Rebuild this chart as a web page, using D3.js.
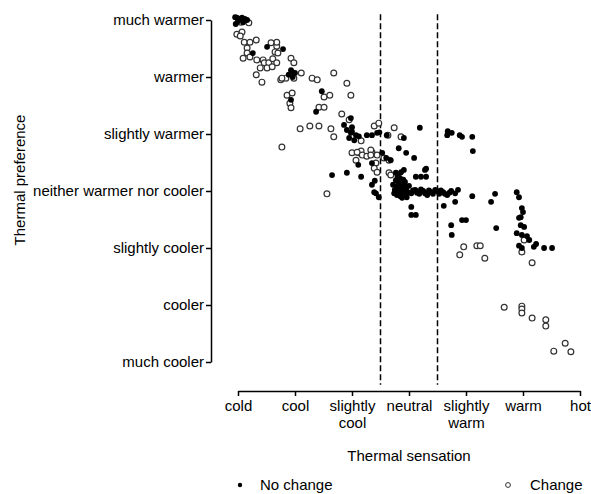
<!DOCTYPE html>
<html><head><meta charset="utf-8">
<script src="https://cdn.jsdelivr.net/npm/d3@7"></script>
<style>body{margin:0;background:#fff}svg{display:block;font-family:"Liberation Sans",Arial,sans-serif}</style>
</head><body><svg id="c" width="591" height="494"></svg>
<script>
const sensationLabels = [["cold"],["cool"],["slightly","cool"],["neutral"],["slightly","warm"],["warm"],["hot"]];
const sensationValues = [-3,-2,-1,0,1,2,3];
const preferenceLabels = ["much cooler","cooler","slightly cooler","neither warmer nor cooler","slightly warmer","warmer","much warmer"];
const preferenceValues = [-3,-2,-1,0,1,2,3];
const boundaries = [-0.5, 0.5];

// [sensation, preference]
const noChange = [
[-3.05,3.05],[-3.02,3.04],[-2.98,3.02],[-2.93,3.04],[-2.88,3.02],[-3.0,2.98],[-2.91,2.96],[-2.84,3.0],[-3.04,2.93],
[-2.74,2.42],[-2.49,2.53],[-2.21,2.49],[-2.05,2.09],[-2.11,2.04],[-2.0,2.07],[-2.07,2.12],[-2.04,2.0],[-2.07,1.60],
[-1.53,1.75],[-1.63,1.39],[-1.02,1.28],[-1.14,1.16],[-1.0,1.12],[-1.09,1.07],[-1.02,1.02],[-0.93,0.98],[-1.05,0.93],
[-0.96,0.89],[-1.0,1.04],[-0.88,0.96],[-0.74,0.98],[-0.65,0.98],[-0.56,1.02],[-0.52,1.03],[-0.39,0.98],[-0.18,0.75],[-0.05,0.67],
[-0.09,0.93],[0.19,1.11],[-0.89,0.46],[-0.65,0.49],[-0.47,0.67],[-0.40,0.58],[-0.32,0.54],[0.09,0.58],
[-1.35,0.28],[-1.09,0.32],[-0.84,0.25],[-0.60,0.18],[-0.65,0.11],[-0.58,-0.04],[-0.53,-0.11],[-0.61,-0.02],
[-0.23,0.32],[-0.14,0.33],[-0.09,0.37],[0.12,0.25],[0.21,0.25],[0.30,0.25],[0.30,0.39],[0.28,0.37],
[0.04,-0.28],[0.04,-0.42],[0.12,-0.42],[0.61,-0.26],[0.67,0.98],[0.68,1.05],[0.75,1.02],[0.89,0.98],[0.93,0.95],[1.11,0.95],[1.12,0.70],
[-0.23,0.19],[-0.18,0.14],[-0.12,0.11],[-0.21,0.07],[-0.14,0.04],[-0.09,0.0],[-0.18,-0.04],[-0.11,-0.07],[-0.05,0.05],
[-0.02,-0.02],[-0.21,-0.07],[-0.12,-0.12],[-0.07,0.16],[-0.16,0.23],[-0.04,-0.11],[-0.25,0.02],[-0.28,0.11],[0.0,0.09],
[-0.19,0.10],[-0.15,-0.09],[-0.08,0.08],[-0.26,-0.04],[-0.10,0.20],[-0.20,0.26],[-0.06,-0.05],[-0.17,0.0],
[0.04,-0.04],[0.11,0.02],[0.18,-0.05],[0.25,0.0],[0.32,-0.07],[0.39,-0.02],[0.46,0.02],[0.53,-0.05],[0.60,-0.02],
[0.07,0.01],[0.14,-0.03],[0.21,0.03],[0.28,-0.04],[0.35,0.01],[0.42,-0.05],[0.49,0.0],[0.56,0.01],[0.63,-0.05],[0.71,-0.03],
[0.67,-0.07],[0.74,0.0],[0.81,-0.04],[0.86,0.02],[0.81,-0.19],[1.11,-0.09],[1.51,-0.05],[1.44,-0.19],
[1.89,-0.02],[1.93,-0.11],[1.98,-0.30],[2.0,-0.37],[1.96,-0.46],[1.93,-0.47],
[0.74,-0.60],[0.75,-0.77],[0.93,-0.51],[1.0,-0.51],[1.53,-0.65],
[1.96,-0.60],[2.02,-0.63],[1.89,-0.74],[1.98,-0.77],[2.07,-0.79],[2.11,-0.86],[1.93,-0.96],[1.98,-1.0],
[2.23,-0.93],[2.19,-0.98],[2.37,-1.0],[2.51,-1.0]
];
const change = [
[-2.95,2.96],[-2.81,2.95],[-3.02,2.75],[-2.93,2.79],[-2.96,2.72],[-2.89,2.61],[-2.79,2.61],[-2.68,2.65],[-2.84,2.51],
[-2.84,2.42],[-2.91,2.33],[-2.79,2.35],[-2.67,2.30],[-2.56,2.30],[-2.54,2.25],[-2.46,2.25],[-2.39,2.32],[-2.32,2.25],
[-2.61,2.16],[-2.49,2.16],[-2.40,2.18],[-2.32,2.54],[-2.35,2.44],[-2.30,2.42],[-2.32,2.61],[-2.42,2.60],[-2.07,2.33],
[-2.02,2.25],[-1.89,2.07],[-2.16,1.98],[-2.25,1.95],[-2.23,1.98],[-2.02,1.98],[-2.68,2.04],[-2.58,1.91],[-1.70,1.98],
[-1.61,1.95],[-1.32,2.07],[-2.14,1.68],[-2.05,1.72],[-2.09,1.54],[-2.07,1.46],[-1.49,1.65],[-1.39,1.68],[-1.09,1.89],
[-1.02,1.68],[-1.58,1.47],[-1.49,1.47],[-1.18,1.35],[-1.05,1.25],[-0.84,0.88],[-0.61,1.14],[-0.53,1.19],[-1.91,1.09],
[-1.74,1.14],[-1.58,1.14],[-1.37,1.09],[-1.32,0.95],[-2.23,0.77],[-0.26,1.11],[-0.14,0.95],[-1.0,0.67],[-0.88,0.67],
[-0.84,0.70],[-0.93,0.54],[-0.91,0.68],[-0.82,0.63],[-0.74,0.61],[-0.65,0.68],[-0.67,0.72],[-0.67,0.63],[-0.56,0.63],
[-0.58,0.49],[-0.61,0.40],[-0.56,0.33],[-0.44,0.58],[-0.35,0.54],[-0.35,0.32],[-0.32,0.28],[-1.44,-0.05],[-0.14,-0.07],
[-0.37,0.98],[1.98,-1.07],[2.02,-0.86],[0.96,-0.98],[0.89,-1.12],[1.19,-0.96],[1.25,-0.96],[1.33,-1.18],[2.16,-1.26],
[1.67,-2.04],[1.98,-2.02],[1.98,-2.07],[1.98,-2.14],[2.16,-2.23],[2.40,-2.26],[2.40,-2.37],[2.74,-2.67],[2.54,-2.81],[2.84,-2.82]
];

const svg = d3.select("#c");
const x = d3.scaleLinear().domain([-3,3]).range([238,580]);
const y = d3.scaleLinear().domain([-3,3]).range([362,20]);
const fs = "15px";

// y axis
const yAxis = svg.append("g").attr("transform","translate(211,0)")
  .call(d3.axisLeft(y).tickValues(preferenceValues).tickSize(5).tickSizeOuter(0)
    .tickFormat((d,i)=>preferenceLabels[i]));
yAxis.select(".domain").attr("stroke","#000").attr("stroke-width",1.5);
yAxis.selectAll(".tick line").attr("stroke","#000").attr("stroke-width",1.5);
yAxis.selectAll(".tick text").attr("font-size",fs).attr("fill","#000").attr("x",-7).attr("font-family","Liberation Sans, Arial, sans-serif");

// x axis
const xAxis = svg.append("g").attr("transform","translate(0,391)")
  .call(d3.axisBottom(x).tickValues(sensationValues).tickSize(5).tickSizeOuter(0).tickFormat(""));
xAxis.select(".domain").attr("stroke","#000").attr("stroke-width",1.5);
xAxis.selectAll(".tick line").attr("stroke","#000").attr("stroke-width",1.5);
xAxis.selectAll(".tick").each(function(d,i){
  const t = d3.select(this).append("text").attr("text-anchor","middle").attr("font-size",fs).attr("fill","#000");
  sensationLabels[i].forEach((s,j)=>t.append("tspan").attr("x",0).attr("y",20+j*17).text(s));
});

// dashed boundaries
svg.selectAll("line.bound").data(boundaries).join("line").attr("class","bound")
  .attr("x1",d=>x(d)).attr("x2",d=>x(d)).attr("y1",y(3.1)).attr("y2",y(-3.4))
  .attr("stroke","#000").attr("stroke-width",1.5).attr("stroke-dasharray","6,3");

// points
svg.append("g").selectAll("circle").data(change).join("circle")
  .attr("cx",d=>x(d[0])).attr("cy",d=>y(d[1])).attr("r",2.9)
  .attr("fill","#fff").attr("stroke","#333").attr("stroke-width",1.2);
svg.append("g").selectAll("circle").data(noChange).join("circle")
  .attr("cx",d=>x(d[0])).attr("cy",d=>y(d[1])).attr("r",2.9).attr("fill","#000");

// titles
svg.append("text").attr("x",409).attr("y",461).attr("text-anchor","middle").attr("font-size",fs).text("Thermal sensation");
svg.append("text").attr("transform","translate(25,180) rotate(-90)").attr("text-anchor","middle").attr("font-size",fs).text("Thermal preference");

// legend
const leg = svg.append("g");
leg.append("circle").attr("cx",240).attr("cy",485).attr("r",2.2).attr("fill","#000");
leg.append("text").attr("x",260).attr("y",490).attr("font-size",fs).text("No change");
leg.append("circle").attr("cx",508).attr("cy",485).attr("r",2.4).attr("fill","#fff").attr("stroke","#333").attr("stroke-width",1);
leg.append("text").attr("x",530).attr("y",490).attr("font-size",fs).text("Change");
</script></body></html>
